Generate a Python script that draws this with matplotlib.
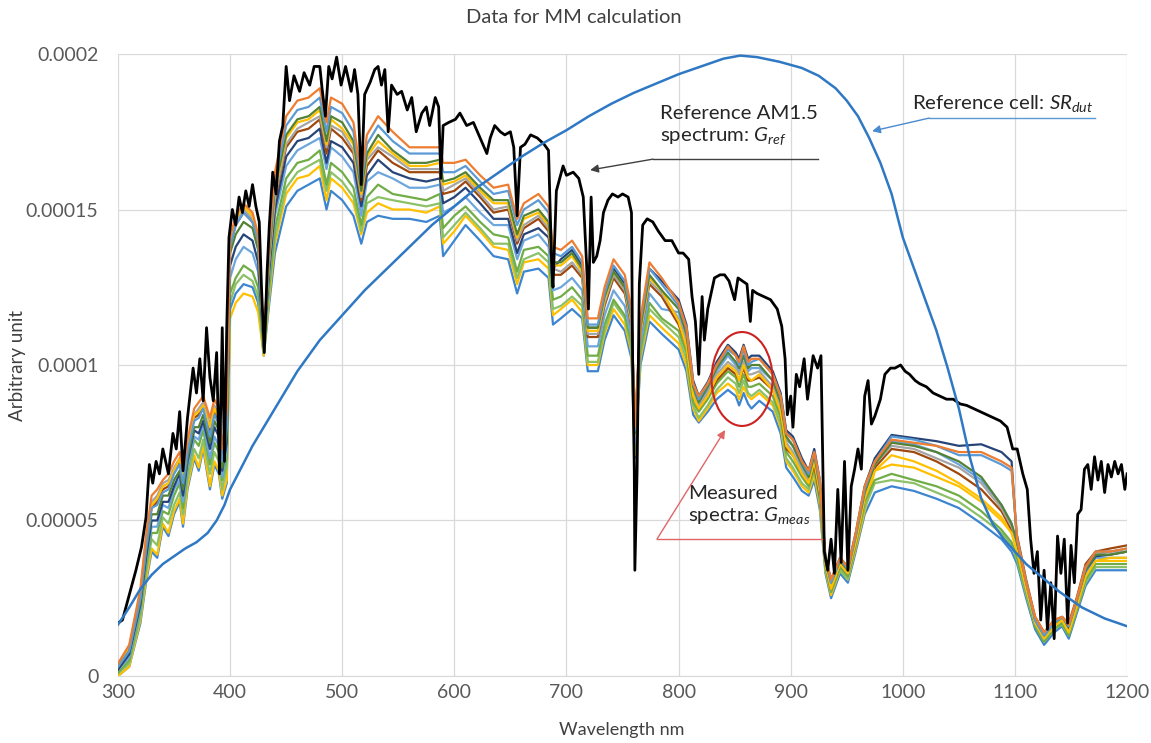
import numpy as np
import matplotlib
matplotlib.use("Agg")
import matplotlib.pyplot as plt
from matplotlib.patches import Ellipse

plt.rcParams['font.family'] = ['Lato', 'DejaVu Sans']
plt.rcParams['mathtext.fontset'] = 'custom'
plt.rcParams['mathtext.rm'] = 'Lato'
plt.rcParams['mathtext.it'] = 'Lato:italic'

UNIT = 1e-4  # values below are in units of 1e-4

title = "Data for MM calculation"
x_label = "Wavelength nm"
y_label = "Arbitrary unit"
x_ticks = [300, 400, 500, 600, 700, 800, 900, 1000, 1100, 1200]
y_ticks = [0, 0.00005, 0.0001, 0.00015, 0.0002]
y_tick_labels = ["0", "0.00005", "0.0001", "0.00015", "0.0002"]

# Reference AM1.5 spectrum (black)
ref_wl = [300, 304, 310, 316, 321, 325, 328, 331, 334, 337, 340, 345, 349, 352, 355, 358, 362, 367, 370, 373,
          376, 379, 382, 385, 388, 390.5, 393, 395, 397, 399, 402, 405, 408, 411, 414, 417, 420, 423, 426, 428,
          430.5, 433, 435, 438, 441, 444, 447, 450, 453, 457, 462, 466, 471, 475, 480, 482, 485, 488, 491, 495,
          499, 503, 508, 511, 514, 517, 520, 525, 529, 532, 535, 538, 541, 544, 549, 553, 558, 562, 566, 571,
          575, 578, 583, 586, 588, 590, 595, 601, 605, 611, 617, 623, 629, 632, 636, 641, 645, 650, 653, 656,
          659, 663, 668, 674, 680, 684, 687, 688, 691, 694, 697, 700, 706, 711, 715, 718, 719.6, 722, 724, 727,
          730, 733, 737, 741, 746, 750, 755, 758, 759, 760.5, 761, 763, 765, 768, 772, 777, 782, 788, 794, 800,
          804, 809, 812, 815, 818, 821, 823, 826, 829, 832, 837, 841, 845, 850, 853, 857, 861, 864, 866, 870,
          876, 882, 888, 892, 895, 897, 900, 902, 905, 908, 912, 915, 920, 924, 927, 930, 933, 936, 939, 942,
          945, 948, 951, 954, 957, 960, 963, 966, 969, 972, 975, 980, 984, 989, 993, 998, 1002, 1006, 1011, 1015,
          1021, 1027, 1033, 1039, 1045, 1051, 1057, 1063, 1069, 1075, 1081, 1087, 1093, 1098, 1102, 1107, 1111, 1114, 1117, 1120,
          1123, 1126, 1129, 1132, 1135, 1138, 1141, 1144, 1147, 1150, 1153, 1156, 1159, 1162, 1165, 1168, 1171, 1174, 1177, 1180,
          1183, 1186, 1189, 1192, 1195, 1198, 1200]
ref_val = [0.17, 0.18, 0.26, 0.34, 0.415, 0.51, 0.68, 0.62, 0.69, 0.65, 0.73, 0.65, 0.78, 0.73, 0.85, 0.66, 0.83, 0.99, 0.91, 1.02,
           0.885, 1.12, 0.96, 0.885, 1.04, 0.65, 1.12, 0.69, 1.12, 1.41, 1.50, 1.45, 1.54, 1.49, 1.56, 1.51, 1.58, 1.51, 1.46, 1.25,
           1.04, 1.30, 1.45, 1.62, 1.55, 1.72, 1.77, 1.96, 1.85, 1.93, 1.88, 1.94, 1.90, 1.96, 1.96, 1.89, 1.80, 1.96, 1.92, 1.99,
           1.90, 1.96, 1.88, 1.95, 1.87, 1.58, 1.87, 1.91, 1.95, 1.96, 1.90, 1.95, 1.75, 1.90, 1.87, 1.88, 1.82, 1.86, 1.75, 1.81,
           1.83, 1.77, 1.86, 1.83, 1.60, 1.77, 1.78, 1.79, 1.81, 1.77, 1.78, 1.73, 1.68, 1.73, 1.77, 1.75, 1.74, 1.75, 1.70, 1.48,
           1.70, 1.71, 1.74, 1.73, 1.71, 1.69, 1.30, 1.25, 1.56, 1.60, 1.64, 1.61, 1.62, 1.60, 1.54, 1.32, 1.18, 1.54, 1.33, 1.35,
           1.40, 1.49, 1.53, 1.55, 1.54, 1.55, 1.54, 1.49, 1.02, 0.66, 0.34, 0.66, 1.26, 1.45, 1.47, 1.46, 1.43, 1.40, 1.40, 1.36,
           1.36, 1.34, 1.22, 1.14, 0.97, 1.22, 1.08, 1.18, 1.23, 1.28, 1.29, 1.29, 1.27, 1.21, 1.28, 1.27, 1.26, 1.14, 1.24, 1.23,
           1.22, 1.21, 1.18, 1.125, 1.02, 0.84, 0.90, 0.80, 0.97, 0.93, 1.02, 0.89, 1.03, 0.99, 1.03, 0.40, 0.34, 0.44, 0.33, 0.60,
           0.365, 0.69, 0.34, 0.61, 0.665, 0.73, 0.665, 0.90, 0.95, 0.81, 0.835, 0.89, 0.97, 0.99, 0.99, 1.00, 0.98, 0.97, 0.95, 0.94,
           0.93, 0.91, 0.90, 0.89, 0.89, 0.875, 0.87, 0.86, 0.85, 0.84, 0.83, 0.82, 0.80, 0.73, 0.73, 0.65, 0.60, 0.44, 0.33, 0.40,
           0.18, 0.34, 0.15, 0.30, 0.12, 0.45, 0.33, 0.44, 0.17, 0.42, 0.30, 0.52, 0.535, 0.665, 0.68, 0.60, 0.705, 0.63, 0.69, 0.59,
           0.68, 0.64, 0.69, 0.65, 0.68, 0.60, 0.65]

# Reference cell spectral response (blue)
sr_wl = [300, 310, 320, 330, 340, 350, 360, 370, 380, 388, 395, 400, 410, 420, 430, 440, 450, 460, 470, 480,
         490, 500, 520, 540, 560, 580, 600, 620, 640, 660, 680, 700, 720, 740, 760, 780, 800, 820, 840, 855,
         870, 890, 910, 925, 940, 950, 960, 970, 980, 990, 1000, 1010, 1020, 1030, 1040, 1050, 1060, 1070, 1080, 1090,
         1100, 1110, 1120, 1140, 1160, 1180, 1200]
sr_val = [0.165, 0.22, 0.28, 0.325, 0.36, 0.385, 0.41, 0.43, 0.46, 0.50, 0.55, 0.60, 0.67, 0.74, 0.80, 0.86, 0.92, 0.98, 1.03, 1.08,
          1.12, 1.16, 1.24, 1.31, 1.38, 1.45, 1.51, 1.57, 1.62, 1.67, 1.715, 1.755, 1.80, 1.84, 1.875, 1.905, 1.935, 1.96, 1.985, 1.995,
          1.99, 1.975, 1.955, 1.93, 1.89, 1.85, 1.80, 1.73, 1.65, 1.55, 1.41, 1.31, 1.21, 1.11, 0.99, 0.86, 0.70, 0.57, 0.49, 0.44,
          0.40, 0.36, 0.33, 0.27, 0.22, 0.185, 0.16]

# Measured spectra
meas_wl = [300, 310, 320, 325, 330, 335, 340, 345, 350, 355, 358, 362, 368, 372, 376, 382, 386, 390, 393, 397,
           400, 405, 412, 420, 425, 430, 435, 440, 450, 460, 470, 480, 486, 490, 500, 510, 517, 522, 532, 545, 560, 575, 587,
           590, 600, 610, 623, 635, 648, 656, 662, 675, 684, 688, 695, 705, 714, 719, 728, 734, 742, 752, 758, 761, 766, 774, 785,
           800, 807, 813, 818, 826, 834, 844, 851, 854, 858, 862, 865, 872, 884, 891, 896, 902, 910, 916, 921, 926, 931, 936, 944, 951, 958, 966,
           975, 990, 1010, 1030, 1050, 1070, 1088, 1097,
           1102, 1110, 1118, 1126, 1135, 1142, 1148, 1155, 1163, 1172, 1185, 1200]

meas_orange = [0.04, 0.10, 0.28, 0.45, 0.58, 0.60, 0.63, 0.65, 0.69, 0.72, 0.66, 0.76, 0.86, 0.88, 0.90, 0.83, 0.89, 0.86, 0.73, 0.86,
               1.41, 1.48, 1.52, 1.49, 1.42, 1.08, 1.40, 1.62, 1.80, 1.85, 1.86, 1.89, 1.78, 1.86, 1.84, 1.78, 1.60, 1.74, 1.80, 1.75, 1.70, 1.70, 1.70,
               1.65, 1.65, 1.66, 1.61, 1.57, 1.58, 1.47, 1.52, 1.55, 1.51, 1.38, 1.37, 1.40, 1.35, 1.15, 1.15, 1.25, 1.34, 1.29, 1.18, 0.80, 1.15, 1.33, 1.28,
               1.20, 1.12, 0.94, 0.90, 0.94, 1.00, 1.06, 1.03, 1.01, 1.06, 1.01, 1.02, 1.02, 0.97, 0.90, 0.78, 0.76, 0.69, 0.66, 0.72, 0.63, 0.38, 0.31, 0.38, 0.35, 0.46, 0.61,
               0.69, 0.76, 0.75, 0.74, 0.72, 0.72, 0.69, 0.67,
               0.44, 0.30, 0.19, 0.14, 0.18, 0.19, 0.165, 0.245, 0.35, 0.40, 0.40, 0.41]
meas_lightblue = [0.03, 0.08, 0.25, 0.41, 0.54, 0.55, 0.59, 0.60, 0.65, 0.68, 0.62, 0.72, 0.82, 0.83, 0.86, 0.77, 0.84, 0.81, 0.69, 0.80,
                  1.38, 1.45, 1.49, 1.46, 1.40, 1.07, 1.38, 1.59, 1.77, 1.82, 1.83, 1.86, 1.75, 1.83, 1.81, 1.75, 1.58, 1.71, 1.77, 1.72, 1.68, 1.68, 1.68,
                  1.62, 1.62, 1.64, 1.59, 1.55, 1.56, 1.45, 1.50, 1.53, 1.49, 1.36, 1.35, 1.38, 1.33, 1.13, 1.13, 1.23, 1.32, 1.27, 1.16, 0.79, 1.14, 1.31, 1.26,
                  1.19, 1.12, 0.94, 0.89, 0.94, 1.00, 1.05, 1.03, 1.00, 1.05, 1.00, 1.01, 1.02, 0.97, 0.90, 0.78, 0.76, 0.69, 0.65, 0.72, 0.62, 0.375, 0.30, 0.375, 0.345, 0.45, 0.60,
                  0.69, 0.77, 0.76, 0.74, 0.71, 0.71, 0.68, 0.66,
                  0.44, 0.30, 0.18, 0.13, 0.17, 0.19, 0.16, 0.24, 0.35, 0.40, 0.40, 0.41]
meas_darkgreen = [0.03, 0.08, 0.24, 0.40, 0.52, 0.52, 0.58, 0.58, 0.63, 0.66, 0.60, 0.70, 0.80, 0.80, 0.84, 0.75, 0.82, 0.79, 0.67, 0.78,
                  1.36, 1.42, 1.46, 1.44, 1.37, 1.07, 1.36, 1.57, 1.74, 1.79, 1.80, 1.83, 1.72, 1.80, 1.78, 1.72, 1.56, 1.68, 1.74, 1.69, 1.65, 1.65, 1.66,
                  1.59, 1.60, 1.62, 1.57, 1.53, 1.53, 1.42, 1.48, 1.50, 1.46, 1.33, 1.33, 1.36, 1.31, 1.12, 1.12, 1.22, 1.30, 1.25, 1.15, 0.78, 1.12, 1.29, 1.24,
                  1.18, 1.10, 0.93, 0.88, 0.93, 0.99, 1.04, 1.01, 0.99, 1.03, 0.99, 1.00, 1.00, 0.95, 0.88, 0.77, 0.74, 0.68, 0.64, 0.71, 0.61, 0.37, 0.30, 0.37, 0.34, 0.45, 0.59,
                  0.68, 0.75, 0.74, 0.72, 0.69, 0.64, 0.55, 0.49,
                  0.43, 0.30, 0.18, 0.13, 0.17, 0.19, 0.16, 0.24, 0.34, 0.39, 0.39, 0.40]
meas_gold = [0.03, 0.09, 0.26, 0.43, 0.55, 0.57, 0.61, 0.62, 0.66, 0.70, 0.63, 0.74, 0.84, 0.85, 0.87, 0.80, 0.86, 0.83, 0.71, 0.82,
             1.40, 1.47, 1.51, 1.48, 1.41, 1.08, 1.35, 1.56, 1.73, 1.78, 1.79, 1.82, 1.71, 1.79, 1.76, 1.71, 1.55, 1.67, 1.72, 1.68, 1.64, 1.64, 1.65,
             1.58, 1.59, 1.61, 1.56, 1.52, 1.52, 1.41, 1.47, 1.49, 1.45, 1.32, 1.32, 1.35, 1.30, 1.11, 1.11, 1.21, 1.30, 1.25, 1.14, 0.78, 1.11, 1.28, 1.24,
             1.14, 1.06, 0.90, 0.86, 0.90, 0.96, 1.00, 0.98, 0.95, 1.00, 0.96, 0.95, 0.97, 0.92, 0.85, 0.74, 0.71, 0.65, 0.62, 0.69, 0.59, 0.36, 0.28, 0.36, 0.33, 0.43, 0.57,
             0.66, 0.68, 0.67, 0.64, 0.61, 0.56, 0.50, 0.46,
             0.40, 0.28, 0.17, 0.12, 0.16, 0.18, 0.14, 0.22, 0.32, 0.37, 0.38, 0.38]
meas_gray = [0.04, 0.09, 0.27, 0.44, 0.56, 0.58, 0.62, 0.63, 0.67, 0.70, 0.64, 0.74, 0.84, 0.86, 0.88, 0.81, 0.87, 0.84, 0.71, 0.84,
             1.39, 1.46, 1.50, 1.47, 1.40, 1.08, 1.34, 1.54, 1.71, 1.76, 1.78, 1.80, 1.70, 1.77, 1.75, 1.69, 1.54, 1.66, 1.70, 1.67, 1.63, 1.63, 1.63,
             1.56, 1.58, 1.60, 1.55, 1.50, 1.51, 1.40, 1.45, 1.48, 1.44, 1.31, 1.30, 1.33, 1.29, 1.10, 1.10, 1.20, 1.29, 1.24, 1.13, 0.77, 1.10, 1.27, 1.23,
             1.15, 1.08, 0.91, 0.87, 0.91, 0.97, 1.01, 0.99, 0.97, 1.01, 0.97, 0.97, 0.98, 0.93, 0.86, 0.75, 0.72, 0.66, 0.63, 0.70, 0.60, 0.36, 0.29, 0.36, 0.33, 0.44, 0.58,
             0.68, 0.74, 0.73, 0.70, 0.67, 0.62, 0.54, 0.48,
             0.43, 0.30, 0.18, 0.13, 0.17, 0.19, 0.16, 0.24, 0.35, 0.39, 0.40, 0.40]
meas_brown = [0.03, 0.09, 0.26, 0.42, 0.54, 0.56, 0.60, 0.61, 0.66, 0.69, 0.62, 0.73, 0.83, 0.84, 0.87, 0.78, 0.85, 0.82, 0.70, 0.81,
              1.38, 1.45, 1.49, 1.46, 1.40, 1.07, 1.33, 1.53, 1.70, 1.75, 1.76, 1.79, 1.68, 1.76, 1.73, 1.68, 1.53, 1.64, 1.69, 1.65, 1.62, 1.62, 1.62,
              1.55, 1.56, 1.59, 1.54, 1.49, 1.50, 1.39, 1.44, 1.47, 1.43, 1.29, 1.29, 1.32, 1.28, 1.09, 1.09, 1.19, 1.28, 1.23, 1.12, 0.77, 1.10, 1.26, 1.22,
              1.13, 1.06, 0.90, 0.86, 0.90, 0.95, 0.99, 0.97, 0.95, 0.99, 0.95, 0.95, 0.96, 0.92, 0.85, 0.73, 0.71, 0.65, 0.62, 0.68, 0.58, 0.36, 0.28, 0.36, 0.33, 0.43, 0.57,
              0.67, 0.73, 0.72, 0.69, 0.65, 0.60, 0.53, 0.47,
              0.45, 0.31, 0.19, 0.14, 0.18, 0.19, 0.17, 0.25, 0.36, 0.40, 0.41, 0.42]
meas_navy = [0.02, 0.07, 0.23, 0.38, 0.50, 0.50, 0.56, 0.56, 0.61, 0.65, 0.58, 0.69, 0.79, 0.78, 0.82, 0.73, 0.80, 0.77, 0.66, 0.75,
             1.32, 1.38, 1.42, 1.40, 1.33, 1.06, 1.31, 1.50, 1.67, 1.72, 1.73, 1.76, 1.65, 1.72, 1.70, 1.65, 1.51, 1.61, 1.66, 1.62, 1.60, 1.59, 1.60,
             1.52, 1.54, 1.57, 1.52, 1.47, 1.47, 1.36, 1.42, 1.44, 1.41, 1.31, 1.34, 1.37, 1.32, 1.12, 1.12, 1.22, 1.31, 1.26, 1.16, 0.79, 1.13, 1.31, 1.27,
             1.21, 1.13, 0.95, 0.90, 0.945, 1.01, 1.065, 1.04, 1.02, 1.065, 1.02, 1.03, 1.03, 0.98, 0.91, 0.79, 0.77, 0.70, 0.66, 0.73, 0.63, 0.38, 0.31, 0.38, 0.35, 0.46, 0.61,
             0.70, 0.775, 0.765, 0.755, 0.74, 0.745, 0.72, 0.69,
             0.42, 0.29, 0.18, 0.13, 0.17, 0.18, 0.155, 0.235, 0.34, 0.385, 0.39, 0.40]
meas_midblue = [0.02, 0.06, 0.22, 0.37, 0.48, 0.48, 0.55, 0.54, 0.60, 0.63, 0.56, 0.67, 0.77, 0.76, 0.81, 0.70, 0.77, 0.74, 0.64, 0.73,
                1.28, 1.34, 1.38, 1.36, 1.30, 1.06, 1.29, 1.48, 1.64, 1.69, 1.71, 1.73, 1.63, 1.70, 1.67, 1.62, 1.48, 1.59, 1.62, 1.60, 1.57, 1.57, 1.58,
                1.49, 1.51, 1.54, 1.49, 1.45, 1.45, 1.34, 1.40, 1.42, 1.38, 1.24, 1.25, 1.28, 1.24, 1.06, 1.06, 1.16, 1.24, 1.19, 1.09, 0.75, 1.07, 1.23, 1.18,
                1.17, 1.09, 0.92, 0.88, 0.92, 0.98, 1.03, 1.00, 0.98, 1.03, 0.98, 0.99, 0.99, 0.95, 0.88, 0.76, 0.74, 0.67, 0.64, 0.70, 0.61, 0.37, 0.29, 0.37, 0.34, 0.44, 0.59,
                0.68, 0.755, 0.745, 0.72, 0.68, 0.63, 0.55, 0.49,
                0.41, 0.28, 0.17, 0.12, 0.16, 0.18, 0.15, 0.23, 0.33, 0.38, 0.38, 0.38]
meas_green = [0.01, 0.05, 0.21, 0.35, 0.46, 0.46, 0.53, 0.52, 0.58, 0.62, 0.54, 0.66, 0.76, 0.74, 0.79, 0.68, 0.75, 0.72, 0.63, 0.70,
              1.23, 1.28, 1.32, 1.30, 1.25, 1.04, 1.26, 1.44, 1.60, 1.65, 1.66, 1.69, 1.58, 1.65, 1.62, 1.57, 1.45, 1.54, 1.58, 1.55, 1.54, 1.53, 1.55,
              1.44, 1.48, 1.51, 1.46, 1.42, 1.41, 1.30, 1.37, 1.38, 1.35, 1.21, 1.22, 1.25, 1.21, 1.03, 1.03, 1.13, 1.21, 1.16, 1.07, 0.73, 1.05, 1.20, 1.15,
              1.11, 1.04, 0.88, 0.85, 0.89, 0.94, 0.98, 0.96, 0.93, 0.97, 0.93, 0.93, 0.94, 0.90, 0.83, 0.72, 0.69, 0.64, 0.61, 0.67, 0.57, 0.35, 0.27, 0.35, 0.32, 0.42, 0.56,
              0.63, 0.65, 0.63, 0.61, 0.58, 0.53, 0.47, 0.43,
              0.38, 0.27, 0.16, 0.11, 0.15, 0.17, 0.13, 0.21, 0.31, 0.36, 0.36, 0.36]
meas_lightgreen = [0.01, 0.04, 0.19, 0.33, 0.44, 0.42, 0.51, 0.49, 0.55, 0.59, 0.52, 0.63, 0.73, 0.70, 0.76, 0.65, 0.72, 0.69, 0.60, 0.67,
                   1.20, 1.26, 1.29, 1.27, 1.22, 1.04, 1.24, 1.41, 1.57, 1.62, 1.64, 1.66, 1.56, 1.62, 1.59, 1.54, 1.43, 1.52, 1.54, 1.53, 1.52, 1.51, 1.52,
                   1.41, 1.45, 1.49, 1.44, 1.39, 1.39, 1.28, 1.34, 1.36, 1.33, 1.18, 1.19, 1.22, 1.19, 1.01, 1.01, 1.11, 1.20, 1.15, 1.05, 0.72, 1.03, 1.18, 1.14,
                   1.09, 1.02, 0.87, 0.83, 0.87, 0.92, 0.96, 0.94, 0.91, 0.95, 0.91, 0.90, 0.92, 0.88, 0.81, 0.70, 0.67, 0.62, 0.60, 0.66, 0.56, 0.34, 0.27, 0.34, 0.31, 0.42, 0.54,
                   0.62, 0.63, 0.62, 0.59, 0.56, 0.51, 0.46, 0.42,
                   0.37, 0.26, 0.16, 0.11, 0.15, 0.165, 0.13, 0.21, 0.30, 0.35, 0.35, 0.35]
meas_gold2 = [0.00, 0.03, 0.18, 0.31, 0.41, 0.39, 0.49, 0.46, 0.53, 0.57, 0.49, 0.61, 0.71, 0.67, 0.74, 0.61, 0.69, 0.66, 0.58, 0.63,
              1.15, 1.20, 1.23, 1.22, 1.17, 1.03, 1.22, 1.39, 1.55, 1.60, 1.61, 1.64, 1.53, 1.60, 1.57, 1.52, 1.42, 1.49, 1.52, 1.50, 1.50, 1.49, 1.51,
              1.39, 1.43, 1.48, 1.43, 1.38, 1.37, 1.26, 1.33, 1.34, 1.31, 1.16, 1.18, 1.21, 1.17, 1.00, 1.00, 1.10, 1.18, 1.13, 1.04, 0.71, 1.02, 1.16, 1.12,
              1.07, 1.00, 0.86, 0.82, 0.86, 0.91, 0.94, 0.92, 0.89, 0.93, 0.90, 0.89, 0.91, 0.87, 0.80, 0.69, 0.66, 0.61, 0.59, 0.645, 0.55, 0.34, 0.26, 0.34, 0.31, 0.41, 0.53,
              0.66, 0.71, 0.69, 0.66, 0.62, 0.57, 0.51, 0.46,
              0.40, 0.27, 0.17, 0.12, 0.16, 0.17, 0.14, 0.22, 0.32, 0.37, 0.37, 0.37]
meas_bluelo = [0.00, 0.03, 0.17, 0.30, 0.40, 0.38, 0.48, 0.45, 0.52, 0.56, 0.48, 0.60, 0.70, 0.66, 0.73, 0.60, 0.68, 0.65, 0.57, 0.62,
               1.18, 1.23, 1.26, 1.25, 1.20, 1.03, 1.20, 1.36, 1.51, 1.56, 1.58, 1.60, 1.50, 1.56, 1.53, 1.48, 1.39, 1.46, 1.48, 1.47, 1.47, 1.46, 1.48,
               1.35, 1.40, 1.45, 1.40, 1.35, 1.34, 1.23, 1.30, 1.31, 1.28, 1.13, 1.15, 1.18, 1.15, 0.98, 0.98, 1.08, 1.16, 1.11, 1.02, 0.70, 1.00, 1.14, 1.10,
               1.05, 0.98, 0.84, 0.815, 0.85, 0.89, 0.92, 0.90, 0.87, 0.91, 0.875, 0.86, 0.885, 0.85, 0.78, 0.67, 0.64, 0.595, 0.58, 0.63, 0.535, 0.33, 0.25, 0.33, 0.30, 0.40, 0.52,
               0.59, 0.61, 0.595, 0.57, 0.54, 0.49, 0.44, 0.40,
               0.36, 0.25, 0.15, 0.10, 0.14, 0.16, 0.12, 0.20, 0.29, 0.34, 0.34, 0.34]

measured = [
    (meas_bluelo, "#3D85D0"),
    (meas_gold2, "#FFC000"),
    (meas_lightgreen, "#8CC168"),
    (meas_green, "#70AD47"),
    (meas_midblue, "#6CA6DD"),
    (meas_navy, "#264478"),
    (meas_brown, "#9E480E"),
    (meas_gray, "#A5A5A5"),
    (meas_gold, "#FFC000"),
    (meas_darkgreen, "#548235"),
    (meas_lightblue, "#5B9BD5"),
    (meas_orange, "#ED7D31"),
]

fig = plt.figure(figsize=(11.51, 7.43), dpi=100)
ax = fig.add_axes([0.1025, 0.0902, 0.8767, 0.8371])

mw = np.array(meas_wl)
for vals, col in measured:
    ax.plot(mw, np.array(vals) * UNIT, color=col, lw=1.6, solid_joinstyle='round')

ax.plot(np.array(ref_wl), np.array(ref_val) * UNIT, color="black", lw=2.0, solid_joinstyle='round')
ax.plot(np.array(sr_wl), np.array(sr_val) * UNIT, color="#2F78C4", lw=1.8)

ax.set_xlim(300, 1200)
ax.set_ylim(0, 0.0002)
ax.set_xticks(x_ticks)
ax.set_yticks(y_ticks)
ax.set_yticklabels(y_tick_labels)
ax.grid(True, color="#D9D9D9", lw=0.9)
ax.set_axisbelow(True)
for s in ["top", "right", "left"]:
    ax.spines[s].set_visible(False)
ax.spines["bottom"].set_color("#D9D9D9")
ax.tick_params(axis="both", length=0, labelsize=14, colors="#595959")
ax.tick_params(axis="y", pad=14)
ax.tick_params(axis="x", pad=6)

fig.text(0.4987, 0.9758, title, ha="center", va="center", fontsize=14.5, color="#404040")
fig.text(0.540, 0.0175, x_label, ha="center", va="center", fontsize=13, color="#404040")
fig.text(0.0156, 0.5087, y_label, ha="center", va="center", rotation=90, fontsize=13.5, color="#404040")

# Annotations
ax.text(783.5, 1.835 * UNIT, "Reference AM1.5\nspectrum: $G_{ref}$", ha="left", va="top",
        fontsize=14.7, color="#262626", linespacing=1.2)
ax.plot([777.2, 924.4], [1.662 * UNIT, 1.662 * UNIT], color="#404040", lw=1.0)
ax.annotate("", xy=(721.1, 1.627 * UNIT), xytext=(777.2, 1.662 * UNIT),
            arrowprops=dict(arrowstyle="-|>", color="#404040", lw=1.0, mutation_scale=12, shrinkA=0, shrinkB=0))

ax.text(1008.3, 1.842 * UNIT, "Reference cell: $SR_{dut}$", ha="left", va="center",
        fontsize=14.7, color="#262626")
ax.plot([1023.5, 1171.5], [1.794 * UNIT, 1.794 * UNIT], color="#5B9BD5", lw=1.0)
ax.annotate("", xy=(972.6, 1.752 * UNIT), xytext=(1023.5, 1.794 * UNIT),
            arrowprops=dict(arrowstyle="-|>", color="#4A8AD0", lw=1.0, mutation_scale=12, shrinkA=0, shrinkB=0))

ax.text(808.5, 0.615 * UNIT, "Measured\nspectra: $G_{meas}$", ha="left", va="top",
        fontsize=14.7, color="#262626", linespacing=1.2)
ax.plot([780.8, 928.0], [0.4405 * UNIT, 0.4405 * UNIT], color="#E06666", lw=1.0)
ax.annotate("", xy=(841.5, 0.791 * UNIT), xytext=(780.8, 0.4405 * UNIT),
            arrowprops=dict(arrowstyle="-|>", color="#E06666", lw=1.0, mutation_scale=12, shrinkA=0, shrinkB=0))
ax.add_patch(Ellipse((856.6, 0.955 * UNIT), 54.4, 0.302 * UNIT, fill=False, edgecolor="#CC2222", lw=1.5, zorder=5))

fig.savefig("out.png", dpi=100)
